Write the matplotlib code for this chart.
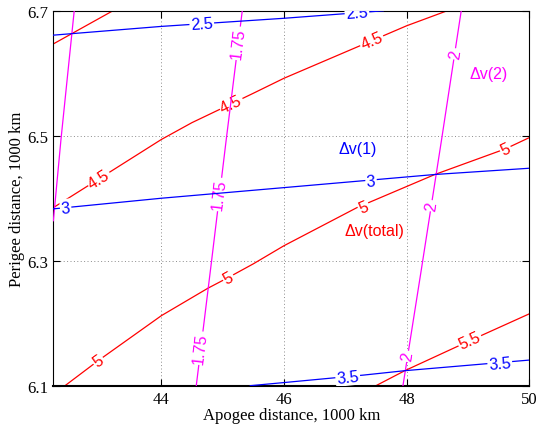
import numpy as np
import matplotlib
matplotlib.use("Agg")
import matplotlib.pyplot as plt

# contour lines (apogee, perigee in 1000 km)
# dv(1), blue
dv1_25_x = [42.24, 44.0, 46.0, 47.62]
dv1_25_y = [6.661, 6.675, 6.688, 6.700]
dv1_25_lab = [(44.66, 6.679), (47.19, 6.697)]
dv1_3_x = [42.24, 44.0, 46.0, 48.46, 50.0]
dv1_3_y = [6.383, 6.400, 6.417, 6.438, 6.448]
dv1_3_lab = [(42.44, 6.385), (47.42, 6.428)]
dv1_35_x = [45.45, 46.0, 47.30, 47.97, 50.0]
dv1_35_y = [6.100, 6.105, 6.117, 6.124, 6.141]
dv1_35_lab = [(47.04, 6.114), (49.52, 6.135)]

# dv(2), magenta
dv2_15_x = [42.24, 42.365, 42.58]
dv2_15_y = [6.364, 6.495, 6.700]
dv2_175_x = [44.57, 44.82, 45.06, 45.32]
dv2_175_y = [6.100, 6.300, 6.495, 6.700]
dv2_175_lab = [(45.25, 6.648), (44.95, 6.406), (44.64, 6.160)]
dv2_2_x = [47.94, 48.24, 48.57, 48.89]
dv2_2_y = [6.100, 6.286, 6.494, 6.700]
dv2_2_lab = [(48.79, 6.631), (48.40, 6.388), (48.01, 6.147)]

# dv(total), red
dvt_4_x = [42.24, 43.21]
dvt_4_y = [6.647, 6.700]
dvt_45_x = [42.24, 43.0, 43.5, 44.0, 44.5, 45.14, 45.5, 46.0, 47.43, 48.0, 48.66]
dvt_45_y = [6.385, 6.432, 6.463, 6.494, 6.521, 6.551, 6.568, 6.592, 6.652, 6.676, 6.700]
dvt_45_lab = [(42.98, 6.431), (45.14, 6.551), (47.43, 6.652)]
dvt_5_x = [42.43, 42.97, 44.0, 44.76, 45.09, 45.5, 46.0, 47.19, 48.46, 49.61, 50.0]
dvt_5_y = [6.100, 6.140, 6.212, 6.256, 6.273, 6.295, 6.324, 6.385, 6.438, 6.479, 6.497]
dvt_5_lab = [(42.97, 6.140), (45.09, 6.273), (47.30, 6.386), (49.61, 6.479)]
dvt_55_x = [47.50, 47.97, 49.03, 50.0]
dvt_55_y = [6.100, 6.124, 6.172, 6.215]
dvt_55_lab = [(49.03, 6.172)]

fig = plt.figure(figsize=(5.39, 4.27), dpi=100)
ax = fig.add_axes([0.099, 0.0944, 0.883, 0.878])
ax.set_xlim(42.24, 50)
ax.set_ylim(6.1, 6.7)


def level(x, y, color, text, labels, z):
    ax.plot(x, y, color=color, lw=0.9, zorder=z)
    pts = ax.transData.transform(np.column_stack([x, y]))
    for lx, ly in labels:
        p = ax.transData.transform((lx, ly))
        d = np.hypot(pts[:, 0] - p[0], pts[:, 1] - p[1])
        i = int(np.argmin(d))
        j = i + 1 if i + 1 < len(pts) else i - 1
        a, b = sorted([i, j])
        ang = np.degrees(np.arctan2(pts[b, 1] - pts[a, 1], pts[b, 0] - pts[a, 0]))
        if ang > 90:
            ang -= 180
        elif ang < -90:
            ang += 180
        ax.text(lx, ly, text, color=color, fontsize=11.5, family="Liberation Sans",
                rotation=ang, rotation_mode="anchor", ha="center", va="center",
                bbox=dict(boxstyle="square,pad=0.08", fc="white", ec="none"),
                zorder=z + 0.1, clip_on=True)


level(dvt_4_x, dvt_4_y, "red", "4", [], 2)
level(dvt_45_x, dvt_45_y, "red", "4.5", dvt_45_lab, 2)
level(dvt_5_x, dvt_5_y, "red", "5", dvt_5_lab, 2)
level(dvt_55_x, dvt_55_y, "red", "5.5", dvt_55_lab, 2)
level(dv2_15_x, dv2_15_y, "magenta", "1.5", [], 3)
level(dv2_175_x, dv2_175_y, "magenta", "1.75", dv2_175_lab, 3)
level(dv2_2_x, dv2_2_y, "magenta", "2", dv2_2_lab, 3)
level(dv1_25_x, dv1_25_y, "blue", "2.5", dv1_25_lab, 4)
level(dv1_3_x, dv1_3_y, "blue", "3", dv1_3_lab, 4)
level(dv1_35_x, dv1_35_y, "blue", "3.5", dv1_35_lab, 4)

ax.text(47.21, 6.479, "\u0394v(1)", color="blue", fontsize=11.5,
        family="Liberation Sans", ha="center", va="center")
ax.text(49.33, 6.599, "\u0394v(2)", color="magenta", fontsize=11.5,
        family="Liberation Sans", ha="center", va="center")
ax.text(47.48, 6.348, "\u0394v(total)", color="red", fontsize=11.5,
        family="Liberation Sans", ha="center", va="center")

ax.set_xticks([44, 46, 48, 50])
ax.set_yticks([6.1, 6.3, 6.5, 6.7])
ax.set_yticklabels(["6.1", "6.3", "6.5", "6.7"])
ax.grid(True, ls=(0, (1, 2.5)), color="0.55", lw=0.7, zorder=0)
ax.tick_params(direction="in", top=True, right=True, length=5, width=0.8,
               labelsize=12)
for t in ax.get_xticklabels() + ax.get_yticklabels():
    t.set_family("Liberation Serif")
for s in ax.spines.values():
    s.set_linewidth(0.8)
ax.spines["bottom"].set_linewidth(1.5)
ax.set_xlabel("Apogee distance, 1000 km", family="Liberation Serif",
              fontsize=12, labelpad=0)
ax.set_ylabel("Perigee distance, 1000 km", family="Liberation Serif",
              fontsize=12, labelpad=2)

fig.savefig("out.png", dpi=100)
